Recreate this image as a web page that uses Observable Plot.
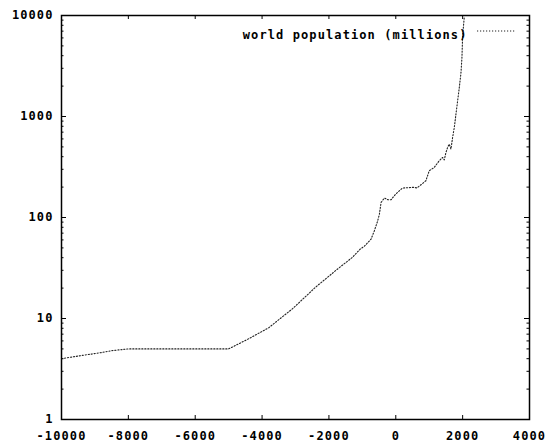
<!DOCTYPE html>
<html>
<head>
<meta charset="utf-8">
<script src="https://cdn.jsdelivr.net/npm/d3@7"></script>
<script src="https://cdn.jsdelivr.net/npm/@observablehq/plot@0.6"></script>
<style>
  html, body { margin: 0; padding: 0; background: #fff; }
  #chart svg { display: block; }
</style>
</head>
<body>
<div id="chart"></div>
<script>
// ---- data ----
const years = [-10000, -9400, -8800, -8500, -8000, -7000, -6000, -5000, -4800, -4400,
  -3800, -3100, -2400, -1800, -1300, -1060, -940, -740, -640, -540,
  -490, -440, -340, -240, -140, 0, 200, 550, 630, 800,
  900, 1000, 1150, 1300, 1400, 1450, 1500, 1550, 1600, 1650,
  1700, 1750, 1800, 1850, 1900, 1950, 1980, 2000, 2050];
const population = [4, 4.3, 4.6, 4.8, 5, 5, 5, 5, 5.4, 6.3,
  8.1, 12.4, 20.4, 29.8, 40.3, 48.8, 52, 61, 74, 93,
  108, 141, 156, 150, 150, 171, 196, 199, 196, 217,
  231, 290, 313, 365, 393, 372, 440, 493, 533, 476,
  620, 778, 1056, 1430, 1936, 2700, 3900, 6300, 9800];
const seriesName = "world population (millions)";
const xTicks = [-10000, -8000, -6000, -4000, -2000, 0, 2000, 4000];
const yTicks = [1, 10, 100, 1000, 10000];
const minorMultipliers = [2, 3, 4, 5, 6, 7, 8, 9];

const rows = years.map((y, i) => ({year: y, pop: population[i]}));
const yMinor = [];
for (const d of yTicks.slice(0, -1)) for (const m of minorMultipliers) yMinor.push(d * m);

const W = 549, H = 447;
const mL = 61, mR = 20, mT = 15, mB = 28;
const pw = W - mL - mR, ph = H - mT - mB;
const font = "'DejaVu Sans Mono', 'Liberation Mono', monospace";
const legendDx = -62, legendDy = 15;

const chart = Plot.plot({
  width: W,
  height: H,
  marginLeft: mL,
  marginRight: mR,
  marginTop: mT,
  marginBottom: mB,
  style: {fontFamily: font, fontWeight: "bold", fontSize: "12px", letterSpacing: "1.1px", background: "#fff", color: "#000"},
  x: {domain: [-10000, 4000]},
  y: {type: "log", domain: [1, 10000]},
  marks: [
    Plot.ruleX(xTicks, {x: d => d, insetTop: ph - 4, stroke: "#000", strokeWidth: 1}),
    Plot.ruleX(xTicks, {x: d => d, insetBottom: ph - 4, stroke: "#000", strokeWidth: 1}),
    Plot.ruleY(yTicks, {y: d => d, insetRight: pw - 5, stroke: "#000", strokeWidth: 1}),
    Plot.ruleY(yTicks, {y: d => d, insetLeft: pw - 5, stroke: "#000", strokeWidth: 1}),
    Plot.ruleY(yMinor, {y: d => d, insetRight: pw - 2.5, stroke: "#000", strokeWidth: 1}),
    Plot.ruleY(yMinor, {y: d => d, insetLeft: pw - 2.5, stroke: "#000", strokeWidth: 1}),
    Plot.axisX(xTicks, {tickSize: 0, tickPadding: 12, tickFormat: d => String(d), label: null}),
    Plot.axisY(yTicks, {tickSize: 0, tickPadding: 8, tickFormat: d => String(d), label: null}),
    Plot.line(rows, {x: "year", y: "pop", stroke: "#222", strokeWidth: 1.1, strokeDasharray: "1.2,1.8", clip: true}),
    Plot.frame({stroke: "#000", strokeWidth: 1.5}),
    Plot.text([seriesName], {text: d => d, frameAnchor: "top-right", dx: legendDx, dy: legendDy, textAnchor: "end", fill: "#000", fontSize: 12})
  ]
});

document.getElementById("chart").appendChild(chart);

// legend sample: dotted line to the right of the legend text
const sx = W - mR + legendDx + 10;
const sy = mT + legendDy + 1;
d3.select(chart).append("line")
  .attr("x1", sx)
  .attr("x2", sx + 38)
  .attr("y1", sy)
  .attr("y2", sy)
  .attr("stroke", "#222")
  .attr("stroke-width", 1.1)
  .attr("stroke-dasharray", "1.2,1.8");
</script>
</body>
</html>
